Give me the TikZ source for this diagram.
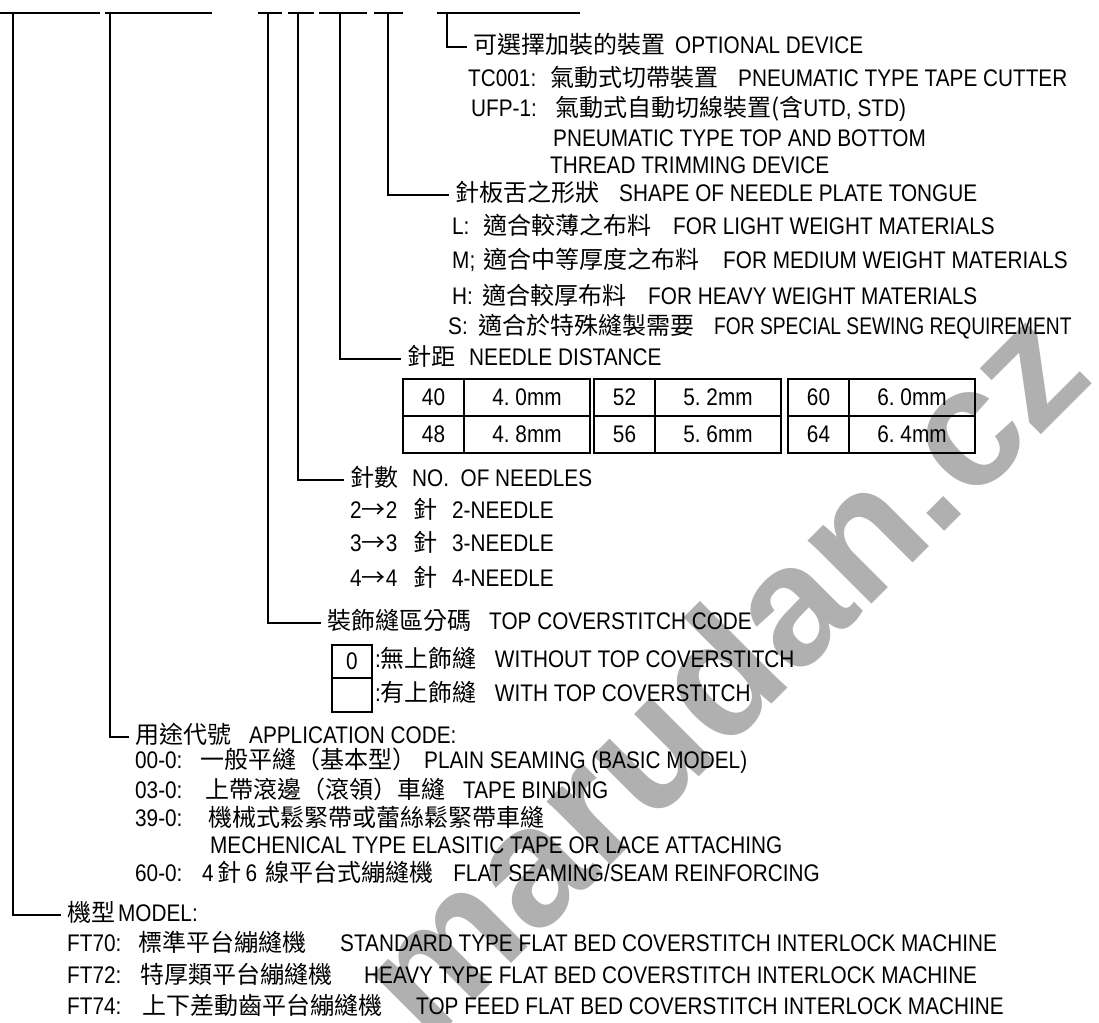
\documentclass[tikz,border=0pt]{standalone}
\usepackage{fontspec}
\setmainfont{Liberation Sans}[FakeStretch=0.865]
\newfontfamily\markfont{Liberation Sans}
\newfontfamily\narrowfont{Liberation Sans}[FakeStretch=0.8]
\newfontfamily\zhfont{Noto Sans CJK TC}
\newcommand{\zh}[1]{{\zhfont\fontsize{24}{26}\selectfont #1}}
\newcommand{\lbl}[2]{\makebox[#1][l]{#2}}

\begin{document}
\begin{tikzpicture}
[
  x=1pt, y=-1pt,
  every node/.style={font=\fontsize{24}{28}\selectfont},
  txt/.style={anchor=west, inner xsep=0pt, inner ysep=0pt, text height=18pt, text depth=5pt},
  hd/.style={txt, inner xsep=6pt},
  lead/.style={line width=1.6pt},
  bar/.style={line width=2.2pt},
  cell/.style={line width=1.3pt}
]

\path[fill=white] (0,0) rectangle (1099,1022);
\useasboundingbox (0,0) rectangle (1099,1022);

% watermark
\node[font=\markfont\fontsize{170}{180}\selectfont\bfseries, text=gray!62, rotate=45] (mark) at (720,670) {marudan.cz};

% code bars
\draw[bar] (0,13) -- (100,13);
\draw[bar] (105,13) -- (212,13);
\draw[bar] (258,13) -- (282,13);
\draw[bar] (288,13) -- (314,13);
\draw[bar] (319,13) -- (367,13);
\draw[bar] (374,13) -- (403,13);
\draw[bar] (437,13) -- (580,13);

\coordinate (vmodel) at (13,13);
\coordinate (vapp) at (110,13);
\coordinate (vcover) at (268,13);
\coordinate (vneedles) at (298,13);
\coordinate (vdist) at (340,13);
\coordinate (vplate) at (388,13);
\coordinate (vopt) at (447,13);

% optional device
\node[hd] (opt) at (467,47) {\zh{可選擇加裝的裝置}\hspace{10pt}OPTIONAL DEVICE};
\node[txt] (tc) at (468,80) {\lbl{82pt}{TC001:}\zh{氣動式切帶裝置}\hspace{20pt}PNEUMATIC TYPE TAPE CUTTER};
\node[txt] (ufp) at (471,110) {\lbl{84pt}{UFP-1:}\zh{氣動式自動切線裝置(含}UTD, STD)};
\node[txt] (pn1) at (553,140) {PNEUMATIC TYPE TOP AND BOTTOM};
\node[txt] (pn2) at (550,167) {THREAD TRIMMING DEVICE};

% needle plate tongue
\node[hd] (plate) at (449,195) {\zh{針板舌之形狀}\hspace{20pt}SHAPE OF NEEDLE PLATE TONGUE};
\node[txt] (pl) at (452,228) {\lbl{31pt}{L:}\zh{適合較薄之布料}\hspace{22pt}FOR LIGHT WEIGHT MATERIALS};
\node[txt] (pm) at (452,262) {\lbl{31pt}{M;}\zh{適合中等厚度之布料}\hspace{24pt}FOR MEDIUM WEIGHT MATERIALS};
\node[txt] (ph) at (452,298) {\lbl{30pt}{H:}\zh{適合較厚布料}\hspace{22pt}FOR HEAVY WEIGHT MATERIALS};
\node[txt] (ps) at (448,328) {\lbl{30pt}{S:}\zh{適合於特殊縫製需要}\hspace{20pt}{\narrowfont FOR SPECIAL SEWING REQUIREMENT}};

% needle distance
\node[hd] (dist) at (401,359) {\zh{針距}\hspace{14pt}NEEDLE DISTANCE};
\foreach \gx/\na/\ia/\ib/\nb/\ja/\jb [count=\i] in {403/40/4/0/48/4/8, 594/52/5/2/56/5/6, 788/60/6/0/64/6/4}
{
  \draw[cell] (\gx,379) rectangle +(61,37) node[midway] (na\i) {\na};
  \draw[cell] (\gx+61,379) rectangle +(126,37) node[midway] (va\i) {\ia.\ \ib mm};
  \draw[cell] (\gx,416) rectangle +(61,37) node[midway] (nb\i) {\nb};
  \draw[cell] (\gx+61,416) rectangle +(126,37) node[midway] (vb\i) {\ja.\ \jb mm};
}

% no. of needles
\node[hd] (needles) at (344,480) {\zh{針數}\hspace{14pt}NO.\ \ OF NEEDLES};
\node[txt] (nd2) at (350,512) {\lbl{63pt}{2\zh{→}2}\zh{針}\hspace{15pt}2-NEEDLE};
\node[txt] (nd3) at (350,545) {\lbl{63pt}{3\zh{→}3}\zh{針}\hspace{15pt}3-NEEDLE};
\node[txt] (nd4) at (350,580) {\lbl{63pt}{4\zh{→}4}\zh{針}\hspace{15pt}4-NEEDLE};

% top coverstitch
\node[hd] (cover) at (321,623) {\zh{裝飾縫區分碼}\hspace{18pt}TOP COVERSTITCH CODE};
\draw[cell] (332,645) rectangle (372,678) node[midway] (zero) {0};
\draw[cell] (332,678) rectangle (372,712) node[midway] (blank) {};
\node[txt] (wo) at (375,661) {:\zh{無上飾縫}\hspace{18pt}WITHOUT TOP COVERSTITCH};
\node[txt] (wi) at (375,695) {:\zh{有上飾縫}\hspace{18pt}WITH TOP COVERSTITCH};

% application code
\node[hd] (app) at (129,737) {\zh{用途代號}\hspace{18pt}APPLICATION CODE:};
\node[txt] (a00) at (135,762) {\lbl{65pt}{00-0:}\zh{一般平縫（基本型）}\hspace{8pt}PLAIN SEAMING (BASIC MODEL)};
\node[txt] (a03) at (135,792) {\lbl{70pt}{03-0:}\zh{上帶滾邊（滾領）車縫}\hspace{18pt}TAPE BINDING};
\node[txt] (a39) at (135,820) {\lbl{73pt}{39-0:}\zh{機械式鬆緊帶或蕾絲鬆緊帶車縫}};
\node[txt] (mech) at (210,847) {MECHENICAL TYPE ELASITIC TAPE OR LACE ATTACHING};
\node[txt] (a60) at (135,875) {\lbl{67pt}{60-0:}4\,\zh{針}\,6\hspace{8pt}\zh{線平台式繃縫機}\hspace{20pt}FLAT SEAMING/SEAM REINFORCING};

% model
\node[hd] (model) at (61,915) {\zh{機型}\hspace{3pt}MODEL:};
\node[txt] (f70) at (67,945) {\lbl{71pt}{FT70:}\zh{標準平台繃縫機}\hspace{34pt}STANDARD TYPE FLAT BED COVERSTITCH INTERLOCK MACHINE};
\node[txt] (f72) at (67,977) {\lbl{73pt}{FT72:}\zh{特厚類平台繃縫機}\hspace{32pt}HEAVY TYPE FLAT BED COVERSTITCH INTERLOCK MACHINE};
\node[txt] (f74) at (67,1008) {\lbl{75pt}{FT74:}\zh{上下差動齒平台繃縫機}\hspace{34pt}TOP FEED FLAT BED COVERSTITCH INTERLOCK MACHINE};

% leaders
\draw[lead] (vopt) |- (opt.west);
\draw[lead] (vplate) |- (plate.west);
\draw[lead] (vdist) |- (dist.west);
\draw[lead] (vneedles) |- (needles.west);
\draw[lead] (vcover) |- (cover.west);
\draw[lead] (vapp) |- (app.west);
\draw[lead] (vmodel) |- (model.west);

\end{tikzpicture}
\end{document}
